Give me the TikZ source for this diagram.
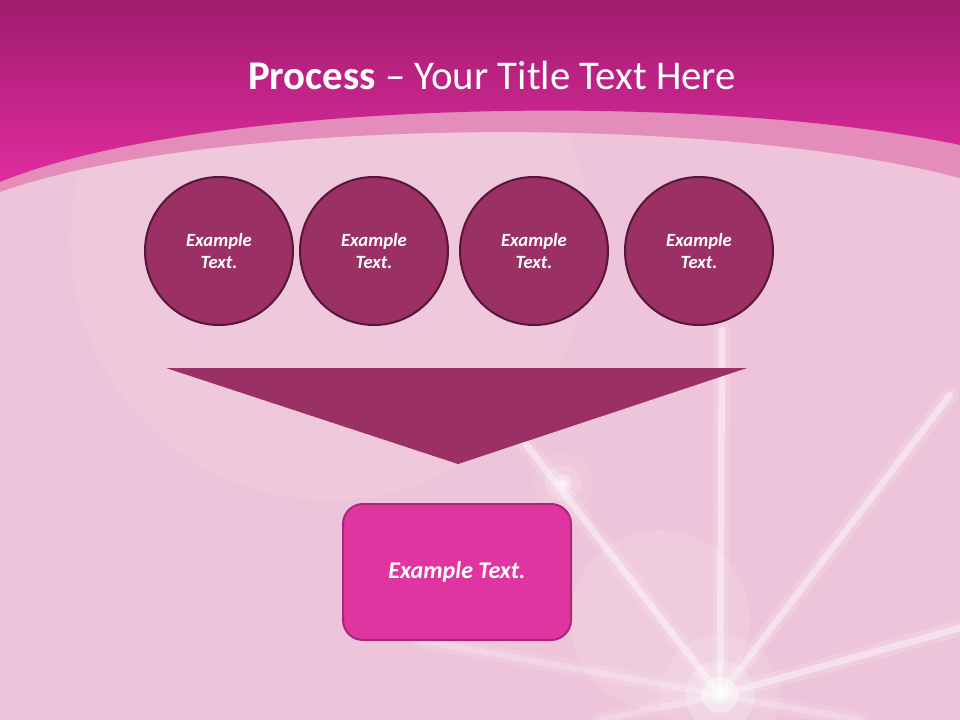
\documentclass[tikz,border=0pt]{standalone}
\usepackage{fontspec}
\setmainfont{Carlito}
\usetikzlibrary{positioning}

\definecolor{topdark}{HTML}{A01C6E}
\definecolor{toplight}{HTML}{E02C9E}
\definecolor{bandpink}{HTML}{E48CBA}
\definecolor{bgpink}{HTML}{EEC4DA}
\definecolor{stepfill}{HTML}{9A3064}
\definecolor{stepline}{HTML}{5A1638}
\definecolor{boxfill}{HTML}{E035A0}
\definecolor{boxline}{HTML}{A8287E}

\begin{document}
\begin{tikzpicture}[x=0.75pt, y=-0.75pt,
        stepnode/.style={circle, draw=stepline, fill=stepfill, line width=1.5pt, minimum size=111pt, inner sep=0pt,
                text=white, align=center, font=\fontsize{14}{17}\selectfont\bfseries\itshape},
        resultnode/.style={rectangle, rounded corners=15pt, draw=boxline, fill=boxfill, line width=1.5pt,
                minimum width=171pt, minimum height=102pt, text=white, font=\fontsize{18}{21}\selectfont\bfseries\itshape},
        ray/.style={white, line width=5pt, opacity=0.4, line cap=round},
        rayglow/.style={white, line width=12pt, opacity=0.15, line cap=round},
]
        % background
        \useasboundingbox (0,0) rectangle (960,720);
        \fill[bgpink] (0,0) rectangle (960,720);
        \fill[white, opacity=0.07] (330,240) circle (260);
        \fill[white, opacity=0.12] (660,620) circle (90);
        \foreach \r/\o in {30/0.08, 18/0.15, 9/0.3, 4/0.5}
                \fill[white, opacity=\o] (563,483) circle (\r);
        \coordinate (flare) at (720,695);
        \foreach \tip/\o in {{(722,330)}/1, {(515,430)}/1, {(950,395)}/1, {(960,628)}/1, {(420,640)}/0.6, {(600,720)}/0.6, {(860,720)}/0.6} {
                \draw[rayglow, opacity=0.15*\o] (flare) -- \tip;
                \draw[ray, opacity=0.4*\o] (flare) -- \tip;
        }
        \foreach \r/\o in {60/0.1, 35/0.2, 18/0.4}
                \fill[white, opacity=\o] (flare) circle (\r);

        % header
        \fill[bandpink] (0,0) -- (0,192) .. controls (200,120) and (700,110) .. (960,178) -- (960,0) -- cycle;
        \shade[top color=topdark, bottom color=toplight] (0,0) -- (0,182) .. controls (200,100) and (700,90) .. (960,145) -- (960,0) -- cycle;
        \node[text=white, font=\fontsize{30.6}{34}\selectfont] (title) at (492,75) {\textbf{Process} – Your Title Text Here};

        % steps
        \node[stepnode] (stepa) at (219,251) {Example\\Text.};
        \node[stepnode] (stepb) at (374,251) {Example\\Text.};
        \node[stepnode] (stepc) at (534,251) {Example\\Text.};
        \node[stepnode] (stepd) at (699,251) {Example\\Text.};

        % funnel
        \fill[stepfill] (166,368) -- (747,368) -- (458,464) -- cycle;

        \node[resultnode] (result) at (457,572) {Example Text.};
\end{tikzpicture}
\end{document}
